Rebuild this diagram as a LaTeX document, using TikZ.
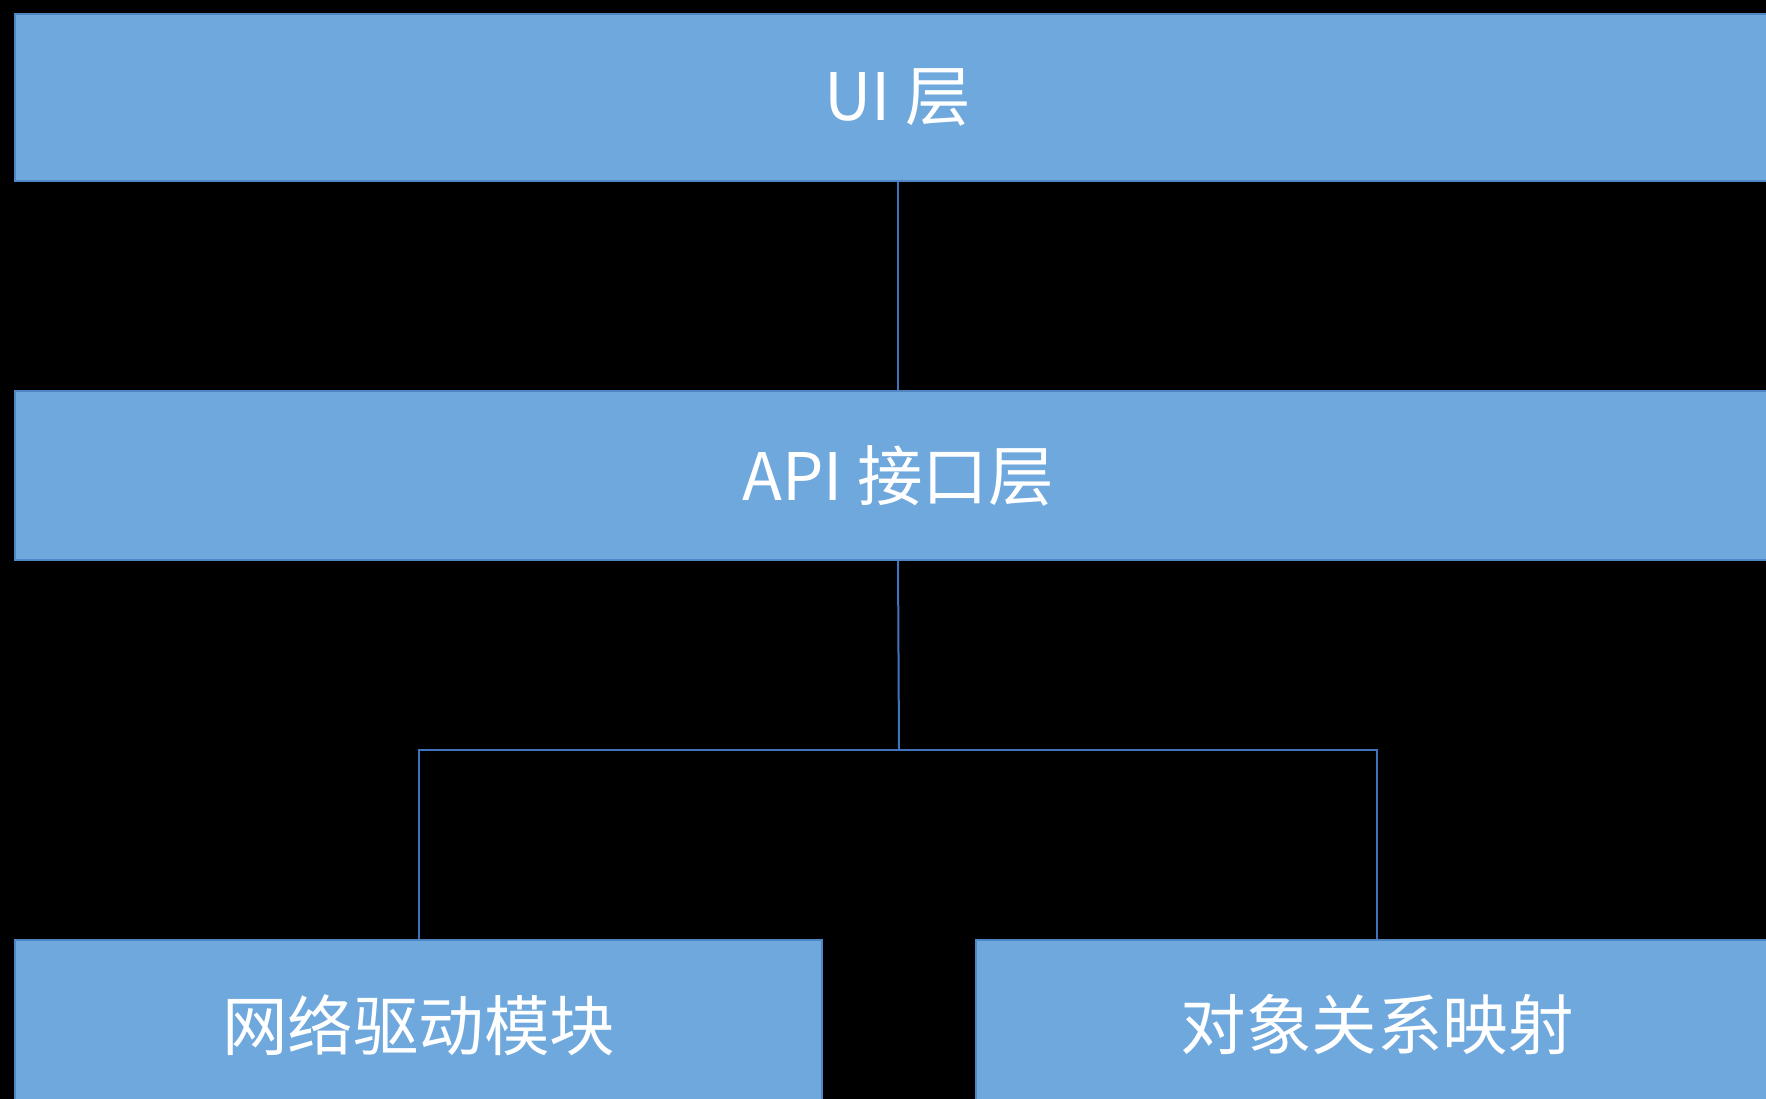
\documentclass[tikz,border=0pt]{standalone}
\usepackage{fontspec}
\newfontfamily\cjk{Noto Sans CJK SC}
\definecolor{boxfill}{HTML}{6FA8DC}
\definecolor{boxline}{HTML}{4F86C6}
\definecolor{wire}{HTML}{3F74BC}
\begin{document}
\begin{tikzpicture}[x=1pt,y=-1pt,
  layer/.style={rectangle, draw=boxline, line width=1.5pt, fill=boxfill, inner sep=0pt,
    text=white, font=\cjk\fontsize{65.5}{72}\selectfont},
  wireline/.style={draw=wire, line width=2pt}]
\fill[black] (0,0) rectangle (1766,1099);
\useasboundingbox (0,0) rectangle (1766,1099);
\clip (0,0) rectangle (1766,1099);
\node[layer, minimum width=1766pt, minimum height=167pt] (ui) at (898,97.5) {UI 层};
\node[layer, minimum width=1766pt, minimum height=169pt] (api) at (898,475.5) {API 接口层};
\node[layer, minimum width=807pt, minimum height=170pt] (net) at (418.5,1025) {网络驱动模块};
\node[layer, minimum width=802pt, minimum height=170pt] (orm) at (1377,1025) {对象关系映射};
\coordinate (j) at (899,750);
\draw[wireline] (ui.south) -- (api.north);
\draw[wireline] (api.south) -- (j);
\draw[wireline] (j) -| (net.north);
\draw[wireline] (j) -| (orm.north);
\end{tikzpicture}
\end{document}
